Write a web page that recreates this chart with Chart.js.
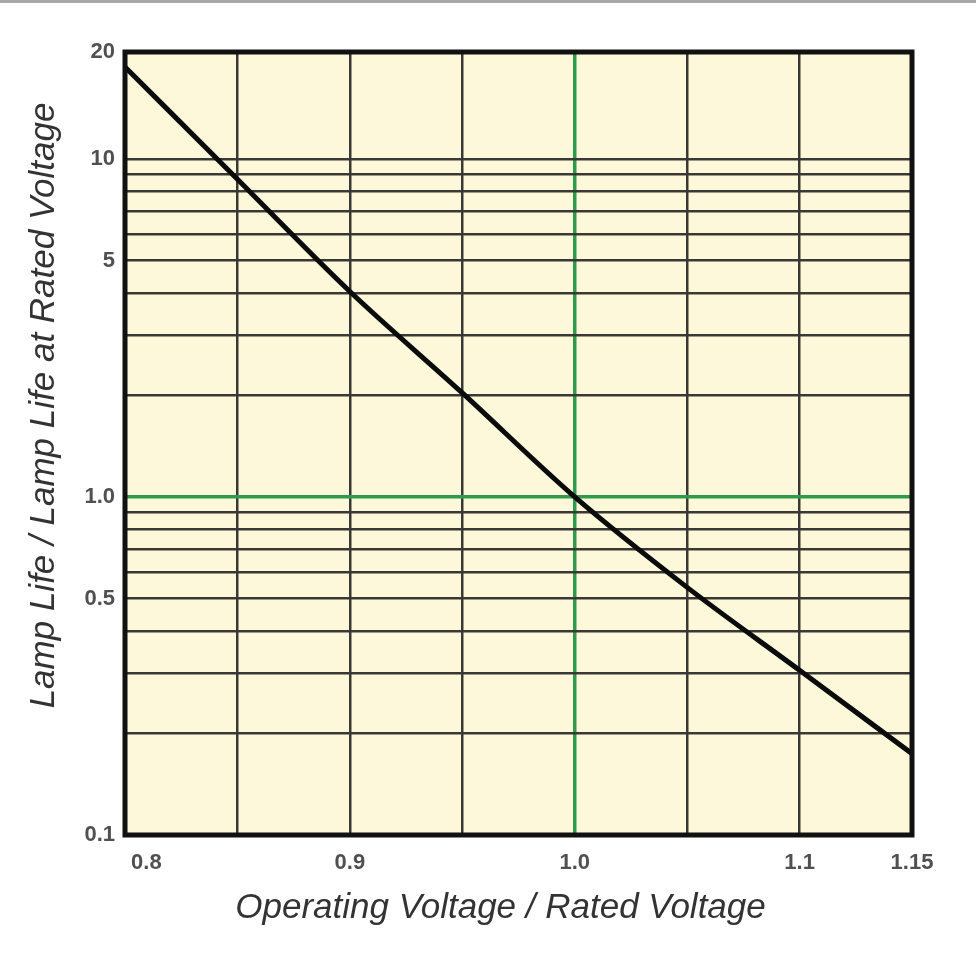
<!DOCTYPE html>
<html>
<head>
<meta charset="utf-8">
<script src="https://cdn.jsdelivr.net/npm/chart.js@4/dist/chart.umd.min.js"></script>
<style>
  html, body { margin:0; padding:0; background:#fff; }
  #wrap { width:976px; height:970px; position:relative; }
  #topRule { position:absolute; left:0; top:0; width:976px; height:3px; background:#a8a8a8; }
</style>
</head>
<body>
<div id="wrap">
  <canvas id="lampChart" width="976" height="970"></canvas>
  <div id="topRule"></div>
</div>
<script>
/* Lamp life vs. operating voltage, log-scale life ratio. */
const voltageRatio = [0.80, 0.85, 0.90, 0.95, 1.00, 1.05, 1.10, 1.15];
const lifeRatio    = [18.7, 8.7, 4.05, 2.03, 1.0, 0.54, 0.307, 0.174];

const Y_MAX = 20.7; // top frame edge, labelled "20" in the original
const yGridValues = [0.1, 0.2, 0.3, 0.4, 0.5, 0.6, 0.7, 0.8, 0.9,
                     1, 2, 3, 4, 5, 6, 7, 8, 9, 10, Y_MAX];
const yTickValues = [0.1, 0.5, 1, 5, 10, Y_MAX];
const yTickLabels = ["0.1", "0.5", "1.0", "5", "10", "20"];

const xTickValues = [0.8, 0.9, 1.0, 1.1, 1.15];
const xTickLabels = ["       0.8", "0.9", "1.0", "1.1", "1.15"];

const X_TITLE = "Operating Voltage / Rated Voltage";
const Y_TITLE = "Lamp Life / Lamp Life at Rated Voltage";

const GRID = "#3a3834", GREEN = "#2e9a4b", PAPER = "#fdf8d9";
const FONT = "'Liberation Sans', Arial, sans-serif";
const near = (a, b) => Math.abs(a - b) < 1e-6;

function labelFor(values, labels, v){
  const i = values.findIndex(t => near(t, v));
  return i < 0 ? "" : labels[i];
}

// paper fill, frame and axis titles
const framePlugin = {
  id: "frame",
  beforeDraw(chart){
    const { ctx, chartArea:a } = chart;
    ctx.save();
    ctx.fillStyle = PAPER;
    ctx.fillRect(a.left, a.top, a.right - a.left, a.bottom - a.top);
    ctx.restore();
  },
  afterDraw(chart){
    const { ctx, chartArea:a } = chart;
    ctx.save();
    ctx.strokeStyle = "#111";
    ctx.lineWidth = 5;
    ctx.strokeRect(a.left, a.top, a.right - a.left, a.bottom - a.top);

    ctx.fillStyle = "#333";
    ctx.font = "italic 35px " + FONT;
    ctx.textAlign = "center";
    ctx.textBaseline = "middle";
    ctx.fillText(X_TITLE, (a.left + a.right) / 2 - 18, a.bottom + 73);

    ctx.translate(44, (a.top + a.bottom) / 2 - 38);
    ctx.rotate(-Math.PI / 2);
    ctx.fillText(Y_TITLE, 0, 0);
    ctx.restore();
  }
};

const gridOpts = {
  drawTicks: false,
  color: c => near(c.tick.value, 1) ? GREEN : GRID,
  lineWidth: c => near(c.tick.value, 1) ? 3.5 : 2.5
};

new Chart(document.getElementById("lampChart"), {
  type: "line",
  data: {
    datasets: [{
      data: voltageRatio.map((v, i) => ({ x: v, y: lifeRatio[i] })),
      borderColor: "#0b0b0b",
      borderWidth: 5,
      pointRadius: 0,
      cubicInterpolationMode: "monotone",
      fill: false
    }]
  },
  options: {
    responsive: false,
    animation: false,
    layout: { padding: { top: 52, right: 64, left: 0, bottom: 0 } },
    plugins: { legend: { display: false }, tooltip: { enabled: false } },
    scales: {
      x: {
        type: "linear",
        min: 0.8, max: 1.15,
        afterFit: s => { s.height = 135; },
        border: { display: false },
        grid: gridOpts,
        ticks: {
          stepSize: 0.05,
          autoSkip: false,
          maxRotation: 0,
          padding: 15,
          color: "#505050",
          font: { family: FONT, size: 22, weight: "bold" },
          callback: v => labelFor(xTickValues, xTickLabels, v)
        }
      },
      y: {
        type: "logarithmic",
        min: 0.1, max: Y_MAX,
        afterFit: s => { s.width = 125; },
        afterBuildTicks: s => { s.ticks = yGridValues.map(v => ({ value: v })); },
        border: { display: false },
        grid: gridOpts,
        ticks: {
          autoSkip: false,
          padding: 10,
          color: "#505050",
          font: { family: FONT, size: 22, weight: "bold" },
          callback: v => labelFor(yTickValues, yTickLabels, v)
        }
      }
    }
  },
  plugins: [framePlugin]
});
</script>
</body>
</html>
